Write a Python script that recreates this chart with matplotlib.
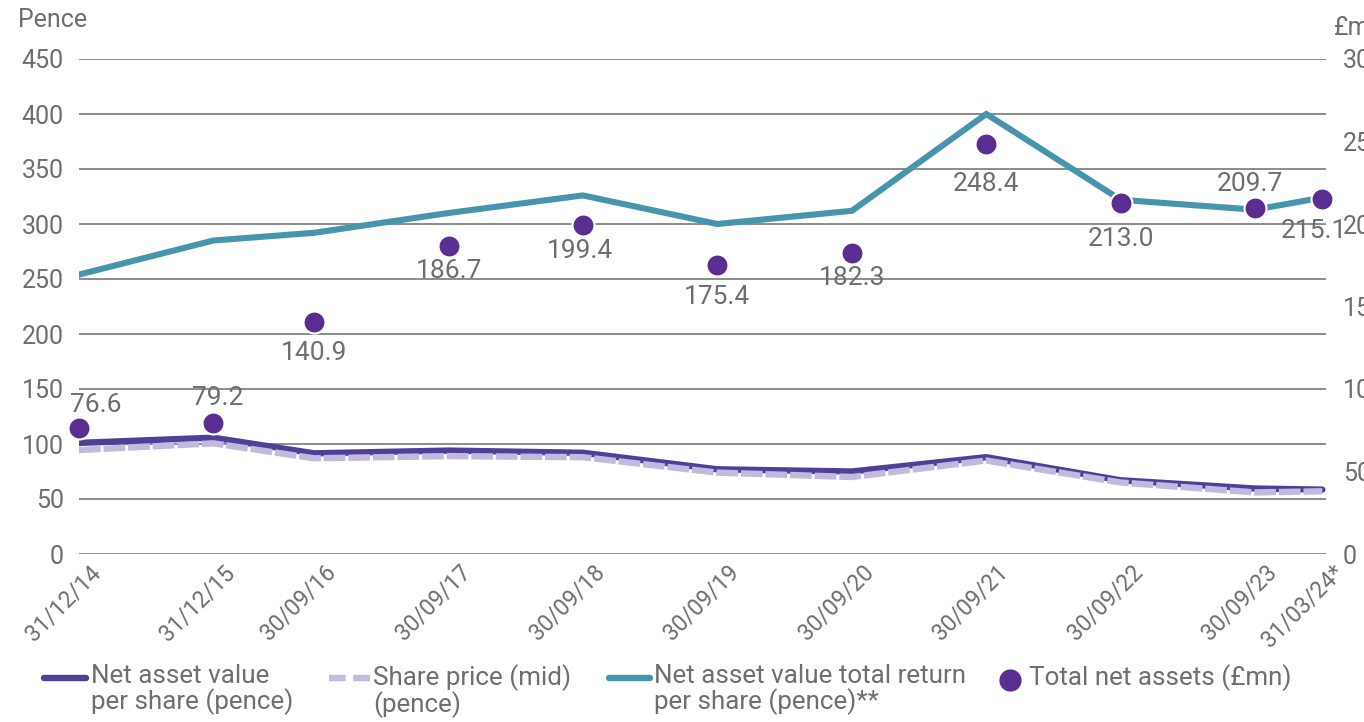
import datetime as dt
import matplotlib
matplotlib.use("Agg")
import matplotlib.pyplot as plt
import matplotlib.transforms as mtransforms
from matplotlib.lines import Line2D

# data
dates = [dt.date(2014, 12, 31), dt.date(2015, 12, 31), dt.date(2016, 9, 30),
         dt.date(2017, 9, 30), dt.date(2018, 9, 30), dt.date(2019, 9, 30),
         dt.date(2020, 9, 30), dt.date(2021, 9, 30), dt.date(2022, 9, 30),
         dt.date(2023, 9, 30), dt.date(2024, 3, 31)]
tick_labels = ["31/12/14", "31/12/15", "30/09/16", "30/09/17", "30/09/18", "30/09/19",
               "30/09/20", "30/09/21", "30/09/22", "30/09/23", "31/03/24*"]
nav_per_share = [101, 105.7, 91.5, 94, 92, 77, 75, 88, 67, 59.5, 58.5]
share_price = [94.5, 100.6, 87, 89, 88, 74, 70, 85, 65, 56, 57]
nav_total_return = [254, 285, 292, 310, 326, 300, 312, 400, 322, 313, 324]
total_net_assets = [76.6, 79.2, 140.9, 186.7, 199.4, 175.4, 182.3, 248.4, 213.0, 209.7, 215.1]

# where each dot's value label sits (points from the dot)
label_offsets = [(12, 16), (3, 18), (0, -23), (0, -18), (-2, -19), (0, -23),
                 (0, -18), (0, -29), (0, -26), (-4, 17), (-6, -23)]

grey = "#6d6e71"
c_nav = "#4f3f99"
c_sp = "#c3b8de"
c_tr = "#4795ad"
c_dot = "#5a2d91"

plt.rcParams["font.family"] = ["Roboto", "DejaVu Sans"]

W, H = 1364, 722
fig = plt.figure(figsize=(W / 100, H / 100), dpi=100)
ax = fig.add_axes([79 / W, 1 - 554 / H, (1326 - 79) / W, (554 - 59) / H])
ax2 = ax.twinx()

ax.set_ylim(0, 450)
ax.set_yticks(range(0, 451, 50))
ax2.set_ylim(0, 300)
ax2.set_yticks(range(0, 301, 50))
ax.set_xlim(dates[0], dt.date(2024, 4, 10))

ax.grid(axis="y", color=grey, linewidth=1.1)
ax.set_axisbelow(True)
for a in (ax, ax2):
    for s in a.spines.values():
        s.set_visible(False)
    a.tick_params(length=0, labelsize=18, labelcolor=grey)
ax.tick_params(axis="y", pad=11)
ax2.tick_params(axis="y", pad=12)

ax.plot(dates, nav_total_return, color=c_tr, linewidth=4.4, solid_joinstyle="miter", zorder=3)
ax.plot(dates, nav_per_share, color=c_nav, linewidth=4.6, solid_capstyle="round", zorder=3)
ax.plot(dates, share_price, color=c_sp, linewidth=4.6, dashes=(3.4, 0.45),
        dash_capstyle="butt", zorder=4)

ax2.scatter(dates, total_net_assets, s=250, color=c_dot, edgecolor="white",
            linewidth=1.5, zorder=5, clip_on=False)
for d, v, off in zip(dates, total_net_assets, label_offsets):
    ax2.annotate(f"{v:.1f}", (d, v), xytext=off, textcoords="offset points",
                 ha="center", va="center", fontsize=19, color=grey, zorder=6)

ax.set_xticks(dates)
ax.set_xticklabels(tick_labels, rotation=45, ha="right", va="top",
                   rotation_mode="anchor", fontsize=16.5)
shift = mtransforms.ScaledTranslation(10 / 100, -2 / 100, fig.dpi_scale_trans)
for lbl in ax.get_xticklabels():
    lbl.set_transform(lbl.get_transform() + shift)

# axis unit captions
fig.text(18 / W, 1 - 20 / H, "Pence", fontsize=18, color=grey, va="center", ha="left")
fig.text(1334 / W, 1 - 28 / H, "£mn", fontsize=18, color=grey, va="center", ha="left")

# legend, drawn by hand so markers line up with the first line of text
def fx(x):
    return x / W

def fy(y):
    return 1 - y / H

ly = 678
fig.add_artist(Line2D([fx(44), fx(86)], [fy(ly), fy(ly)], color=c_nav, linewidth=4.6,
                      solid_capstyle="round", transform=fig.transFigure))
fig.add_artist(Line2D([fx(329), fx(370)], [fy(ly), fy(ly)], color=c_sp, linewidth=4.6,
                      dashes=(2.6, 1.2), dash_capstyle="butt", transform=fig.transFigure))
fig.add_artist(Line2D([fx(609), fx(650)], [fy(ly), fy(ly)], color=c_tr, linewidth=4.6,
                      solid_capstyle="round", transform=fig.transFigure))
fig.add_artist(Line2D([fx(1010)], [fy(ly + 2)], marker="o", markersize=15, color=c_dot,
                      linestyle="none", transform=fig.transFigure))

legend_texts = [(91, "Net asset value\nper share (pence)"),
                (373, "Share price (mid)\n(pence)"),
                (654, "Net asset value total return\nper share (pence)**"),
                (1029, "Total net assets (£mn)")]
for x, t in legend_texts:
    fig.text(fx(x), fy(664), t, fontsize=18.7, color=grey, ha="left", va="top",
             linespacing=1.0)

fig.savefig("out.png", dpi=100)
